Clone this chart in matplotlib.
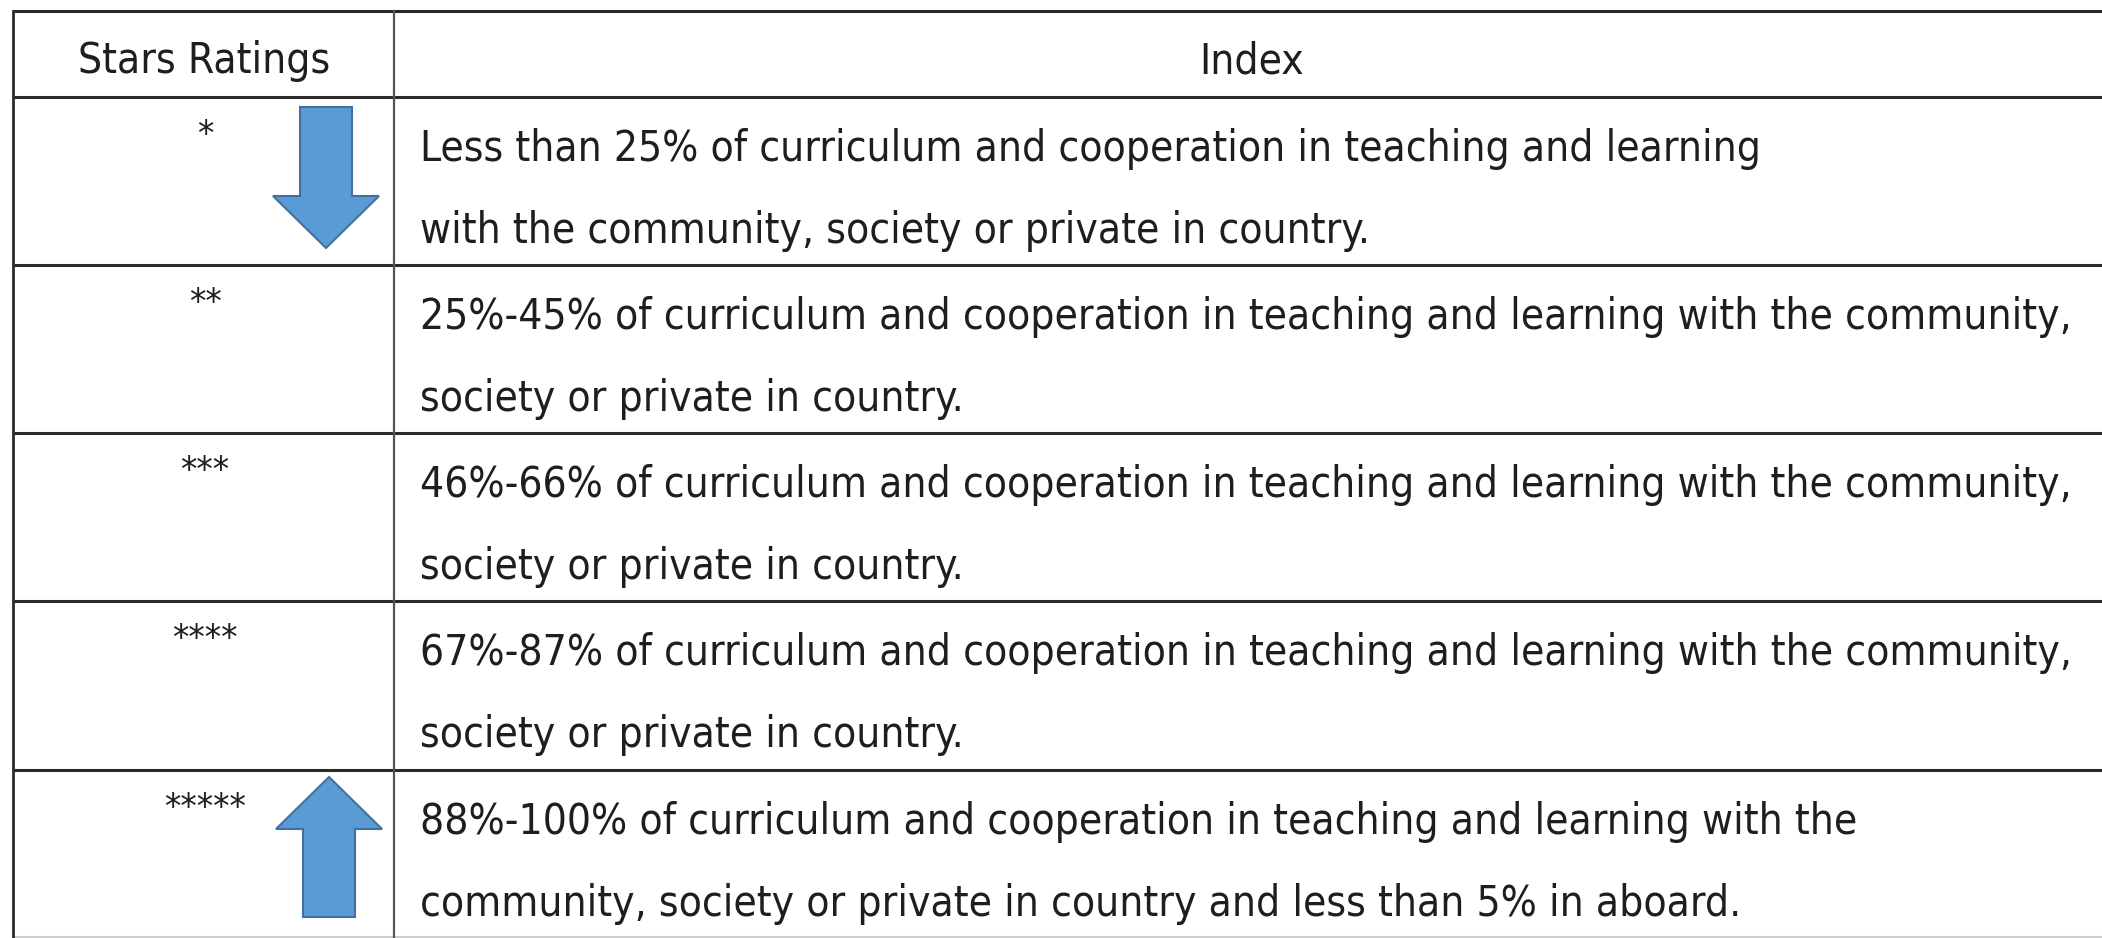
import matplotlib
matplotlib.use("Agg")
import matplotlib.pyplot as plt
from matplotlib import font_manager
from matplotlib.patches import FancyArrow

# ---- data ----
header = ["Stars Ratings", "Index"]
stars = ["*", "**", "***", "****", "*****"]
index_line1 = [
    "Less than 25% of curriculum and cooperation in teaching and learning",
    "25%-45% of curriculum and cooperation in teaching and learning with the community,",
    "46%-66% of curriculum and cooperation in teaching and learning with the community,",
    "67%-87% of curriculum and cooperation in teaching and learning with the community,",
    "88%-100% of curriculum and cooperation in teaching and learning with the",
]
index_line2 = [
    "with the community, society or private in country.",
    "society or private in country.",
    "society or private in country.",
    "society or private in country.",
    "community, society or private in country and less than 5% in aboard.",
]

# ---- font: prefer a narrow/condensed regular face, else Open Sans ----
def pick_fontprops():
    best = None
    for f in font_manager.fontManager.ttflist:
        nm = (f.name + " " + str(f.stretch)).lower()
        fn = f.fname.lower()
        narrow = ("narrow" in nm or "condensed" in nm or "condensed" in fn or "narrow" in fn)
        if not narrow or f.style != "normal":
            continue
        if "mono" in fn or ("serif" in fn and "sans" not in fn):
            continue
        w = f.weight if isinstance(f.weight, int) else 400
        if w not in (300, 400, "normal"):
            continue
        score = 0 if w == 400 else 1
        if best is None or score < best[0]:
            best = (score, f.fname)
    if best is not None:
        return font_manager.FontProperties(fname=best[1])
    return font_manager.FontProperties(family="Open Sans")

FP = pick_fontprops()

W, H = 2102, 938
fig = plt.figure(figsize=(W / 100, H / 100), dpi=100)
ax = fig.add_axes([0, 0, 1, 1])
ax.set_xlim(0, W)
ax.set_ylim(H, 0)
ax.axis("off")

# layout (pixels)
left, col, right = 13, 394, W
row_edges = [11, 97, 265, 433, 601, 770, 937]
text_x = 420
target_width = 1648
txt_color = "#1e1e1e"

# fit font size to target width of the longest line
renderer = fig.canvas.get_renderer()
probe = ax.text(0, 0, index_line1[1], fontproperties=FP, fontsize=30)
wpx = probe.get_window_extent(renderer).width
probe.remove()
fs = 30 * target_width / wpx

def T(x, y, s, size, **kw):
    t = ax.text(x, y, s, fontproperties=FP, color=txt_color, **kw)
    t.set_fontsize(size)
    return t

# grid lines
for i, y in enumerate(row_edges):
    if i == len(row_edges) - 1:
        ax.plot([left, right], [y, y], color="#cfcfcf", lw=1.5, solid_capstyle="butt")
    else:
        ax.plot([left, right], [y, y], color="#2a2a2a", lw=2.2, solid_capstyle="butt")
ax.plot([left, left], [row_edges[0], row_edges[-1]], color="#2a2a2a", lw=2.0)
ax.plot([col, col], [row_edges[0], row_edges[-1]], color="#555555", lw=1.6)

# header
T((left + col) / 2 + 1, 73, header[0], fs, ha="center", va="baseline")
T((col + right) / 2 + 4, 73, header[1], fs, ha="center", va="baseline")

# rows
for i in range(len(stars)):
    top = row_edges[i + 1]
    b1 = top + 64
    b2 = b1 + 82
    T(205, top + 38, stars[i], fs * 0.86, ha="center", va="center")
    T(text_x, b1, index_line1[i], fs, ha="left", va="baseline")
    T(text_x, b2, index_line2[i], fs, ha="left", va="baseline")

# arrows
arrow_kw = dict(width=52, head_width=106, head_length=52, length_includes_head=True,
                facecolor="#5B9BD5", edgecolor="#41719C", lw=1.5)
ax.add_patch(FancyArrow(326, 107, 0, 141, **arrow_kw))
ax.add_patch(FancyArrow(329, 917, 0, -140, **arrow_kw))

fig.savefig("out.png", dpi=100, facecolor="white")
